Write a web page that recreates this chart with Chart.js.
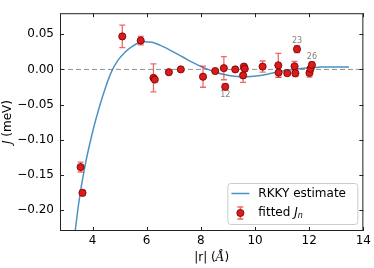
<!DOCTYPE html>
<html>
<head>
<meta charset="utf-8">
<script src="https://cdn.jsdelivr.net/npm/chart.js@4.4.1/dist/chart.umd.min.js"></script>
<style>
  html, body { margin: 0; padding: 0; background: #fff; }
  #wrap { width: 374px; height: 268px; }
</style>
</head>
<body>
<div id="wrap"><canvas id="chart"></canvas></div>
<script>
// RKKY 曲線
const curveR = [3.36, 3.50, 3.70, 4.00, 4.30, 4.50, 4.71, 4.95, 5.20, 5.44, 5.69, 5.92, 6.20, 6.49, 6.86, 7.22, 7.50, 7.77, 8.00, 8.26, 8.55, 8.85, 9.15, 9.50, 9.85, 10.20, 10.53, 10.84, 11.10, 11.39, 11.70, 12.00, 12.35, 12.70, 13.05, 13.47];
const curveJ = [-0.230, -0.188, -0.142, -0.0895, -0.0475, -0.0235, -0.0025, 0.0135, 0.0245, 0.032, 0.0375, 0.0393, 0.0385, 0.0345, 0.0275, 0.0200, 0.0140, 0.0085, 0.0042, 0.000, -0.0040, -0.0073, -0.0093, -0.0103, -0.0100, -0.0086, -0.0062, -0.0037, -0.0017, 0.000, 0.0014, 0.0025, 0.0032, 0.0036, 0.0036, 0.0033];

// 擬合的 J_n 與誤差
const fitR = [3.56, 3.63, 5.10, 5.78, 6.25, 6.30, 6.82, 7.26, 8.08, 8.53, 8.85, 8.90, 9.27, 9.59, 9.62, 9.56, 10.28, 10.86, 10.87, 11.19, 11.46, 11.49, 11.55, 12.01, 12.05, 12.10];
const fitJ = [-0.139, -0.1757, 0.047, 0.041, -0.012, -0.0145, -0.004, 0.000, -0.0104, -0.0023, 0.0018, -0.0248, 0.000, 0.004, 0.001, -0.0085, 0.004, 0.0058, -0.0045, -0.0054, 0.0045, -0.0054, 0.0288, -0.005, 0.001, 0.0064];
const fitErr = [0.007, 0.004, 0.016, 0.006, 0.020, 0.0, 0.0, 0.0, 0.015, 0.0, 0.0165, 0.004, 0.0, 0.003, 0.003, 0.010, 0.008, 0.017, 0.0067, 0.0, 0.007, 0.005, 0.005, 0.006, 0.003, 0.004];

// 有編號的點（n 從 1 開始）
const labelN = [12, 23, 26];
const labelBelow = [true, false, false];

const xTicks = [4, 6, 8, 10, 12, 14];
const yTicks = [-0.20, -0.15, -0.10, -0.05, 0.00, 0.05];

const FONT = '"DejaVu Sans", sans-serif';
const BLUE = 'rgba(31, 119, 180, 0.8)';
const ERR = 'rgba(232, 55, 55, 0.75)';

function fmtY(v) {
    const s = Math.abs(v).toFixed(2);
    return v < -1e-9 ? '\u2212' + s : s;
}

function errBar(ctx, px, yTop, yBot, cap) {
    ctx.beginPath();
    ctx.moveTo(px, yTop); ctx.lineTo(px, yBot);
    ctx.moveTo(px - cap, yTop); ctx.lineTo(px + cap, yTop);
    ctx.moveTo(px - cap, yBot); ctx.lineTo(px + cap, yBot);
    ctx.stroke();
}

function marker(ctx, px, py) {
    ctx.beginPath();
    ctx.arc(px, py, 3.6, 0, Math.PI * 2);
    ctx.fillStyle = '#dc1a1a';
    ctx.fill();
    ctx.lineWidth = 0.8;
    ctx.strokeStyle = '#6e0000';
    ctx.stroke();
}

const decor = {
    id: 'decor',
    beforeDatasetsDraw(chart) {
        const { ctx, chartArea: a, scales: { y } } = chart;
        const y0 = y.getPixelForValue(0);
        ctx.save();
        ctx.strokeStyle = 'rgba(120, 120, 120, 0.8)';
        ctx.lineWidth = 1;
        ctx.setLineDash([5, 3]);
        ctx.beginPath();
        ctx.moveTo(a.left, y0);
        ctx.lineTo(a.right, y0);
        ctx.stroke();
        ctx.restore();
    },
    beforeDatasetDraw(chart, args) {
        if (args.index !== 0) return;
        const { ctx, scales: { x, y } } = chart;
        ctx.save();
        ctx.strokeStyle = ERR;
        ctx.lineWidth = 1.3;
        fitR.forEach((r, i) => {
            if (!fitErr[i]) return;
            const px = x.getPixelForValue(r);
            errBar(ctx, px, y.getPixelForValue(fitJ[i] + fitErr[i]), y.getPixelForValue(fitJ[i] - fitErr[i]), 3);
        });
        ctx.restore();
    },
    afterDraw(chart) {
        const { ctx, chartArea: a, scales: { x, y } } = chart;
        ctx.save();

        // 邊框
        ctx.strokeStyle = '#222';
        ctx.lineWidth = 1;
        ctx.strokeRect(a.left + 0.5, a.top + 0.5, a.right - a.left - 1, a.bottom - a.top - 1);

        // 朝內的刻度
        ctx.beginPath();
        xTicks.forEach(v => {
            const px = Math.round(x.getPixelForValue(v)) + 0.5;
            ctx.moveTo(px, a.bottom); ctx.lineTo(px, a.bottom - 4);
            ctx.moveTo(px, a.top); ctx.lineTo(px, a.top + 4);
        });
        yTicks.forEach(v => {
            const py = Math.round(y.getPixelForValue(v)) + 0.5;
            ctx.moveTo(a.left, py); ctx.lineTo(a.left + 4, py);
            ctx.moveTo(a.right, py); ctx.lineTo(a.right - 4, py);
        });
        ctx.stroke();

        // 點的編號
        ctx.fillStyle = '#808080';
        ctx.font = '8px ' + FONT;
        ctx.textAlign = 'center';
        ctx.textBaseline = 'middle';
        labelN.forEach((n, k) => {
            const i = n - 1;
            const px = x.getPixelForValue(fitR[i]);
            const py = labelBelow[k]
                ? y.getPixelForValue(fitJ[i] - fitErr[i]) + 5
                : y.getPixelForValue(fitJ[i] + fitErr[i]) - 5;
            ctx.fillText(String(n), px, py);
        });

        // 軸標題
        ctx.fillStyle = '#000';
        ctx.textBaseline = 'middle';
        ctx.textAlign = 'left';
        const cx = (a.left + a.right) / 2;
        const p1 = '|r| (', p2 = '\u00c5', p3 = ')';
        ctx.font = '12px ' + FONT;
        const w1 = ctx.measureText(p1).width, w3 = ctx.measureText(p3).width;
        ctx.font = 'italic 12px "DejaVu Serif", serif';
        const w2 = ctx.measureText(p2).width;
        let tx = cx - (w1 + w2 + w3) / 2;
        const ty = 258;
        ctx.font = '12px ' + FONT;
        ctx.fillText(p1, tx, ty); tx += w1;
        ctx.font = 'italic 12px "DejaVu Serif", serif';
        ctx.fillText(p2, tx, ty); tx += w2;
        ctx.font = '12px ' + FONT;
        ctx.fillText(p3, tx, ty);

        ctx.save();
        ctx.translate(8, (a.top + a.bottom) / 2);
        ctx.rotate(-Math.PI / 2);
        ctx.font = 'italic 12px ' + FONT;
        const wj = ctx.measureText('J').width;
        ctx.font = '12px ' + FONT;
        const wm = ctx.measureText(' (meV)').width;
        let ry = -(wj + wm) / 2;
        ctx.font = 'italic 12px ' + FONT;
        ctx.fillText('J', ry, 0);
        ctx.font = '12px ' + FONT;
        ctx.fillText(' (meV)', ry + wj, 0);
        ctx.restore();

        // 圖例
        const bx = a.right - 136, by = a.bottom - 48, bw = 130, bh = 41;
        ctx.beginPath();
        ctx.roundRect(bx + 0.5, by + 0.5, bw, bh, 3);
        ctx.fillStyle = 'rgba(255, 255, 255, 0.8)';
        ctx.fill();
        ctx.strokeStyle = '#cccccc';
        ctx.lineWidth = 1;
        ctx.stroke();

        const ly1 = by + 10.5, ly2 = by + 30;
        ctx.strokeStyle = BLUE;
        ctx.lineWidth = 1.5;
        ctx.beginPath();
        ctx.moveTo(bx + 4, ly1); ctx.lineTo(bx + 22, ly1);
        ctx.stroke();

        ctx.strokeStyle = ERR;
        ctx.lineWidth = 1.3;
        errBar(ctx, bx + 13, ly2 - 6, ly2 + 6, 3);
        marker(ctx, bx + 13, ly2);

        ctx.fillStyle = '#000';
        ctx.textAlign = 'left';
        ctx.textBaseline = 'middle';
        ctx.font = '12px ' + FONT;
        ctx.fillText('RKKY estimate', bx + 31, ly1);
        const fw = ctx.measureText('fitted ').width;
        ctx.fillText('fitted ', bx + 31, ly2);
        ctx.font = 'italic 12px ' + FONT;
        ctx.fillText('J', bx + 31 + fw, ly2);
        const jw = ctx.measureText('J').width;
        ctx.font = 'italic 8px ' + FONT;
        ctx.fillText('n', bx + 31 + fw + jw, ly2 + 3);

        ctx.restore();
    }
};

new Chart(document.getElementById('chart'), {
    type: 'scatter',
    data: {
        datasets: [
            {
                label: 'fitted J_n',
                data: fitR.map((r, i) => ({ x: r, y: fitJ[i] })),
                pointRadius: 3.6,
                pointHoverRadius: 3.6,
                pointBackgroundColor: '#dc1a1a',
                pointBorderColor: '#6e0000',
                pointBorderWidth: 0.8,
                showLine: false
            },
            {
                label: 'RKKY estimate',
                type: 'line',
                data: curveR.map((r, i) => ({ x: r, y: curveJ[i] })),
                borderColor: BLUE,
                borderWidth: 1.5,
                pointRadius: 0,
                cubicInterpolationMode: 'monotone',
                fill: false
            }
        ]
    },
    options: {
        responsive: true,
        maintainAspectRatio: false,
        animation: false,
        devicePixelRatio: 1,
        layout: { padding: { left: 0, right: 10, top: 1, bottom: 0 } },
        plugins: {
            legend: { display: false },
            tooltip: { enabled: false }
        },
        scales: {
            x: {
                type: 'linear',
                min: 2.8,
                max: 14,
                grid: { display: false, drawTicks: false },
                border: { display: false },
                afterBuildTicks: s => { s.ticks = xTicks.map(v => ({ value: v })); },
                afterFit: s => { s.height = 37; },
                ticks: { color: '#000', padding: 3, maxRotation: 0, font: { family: FONT, size: 12 } }
            },
            y: {
                type: 'linear',
                min: -0.23,
                max: 0.08,
                grid: { display: false, drawTicks: false },
                border: { display: false },
                afterBuildTicks: s => { s.ticks = yTicks.map(v => ({ value: v })); },
                afterFit: s => { s.width = 60; },
                ticks: { color: '#000', padding: 6, callback: v => fmtY(v), font: { family: FONT, size: 12 } }
            }
        }
    },
    plugins: [decor]
});
</script>
</body>
</html>
